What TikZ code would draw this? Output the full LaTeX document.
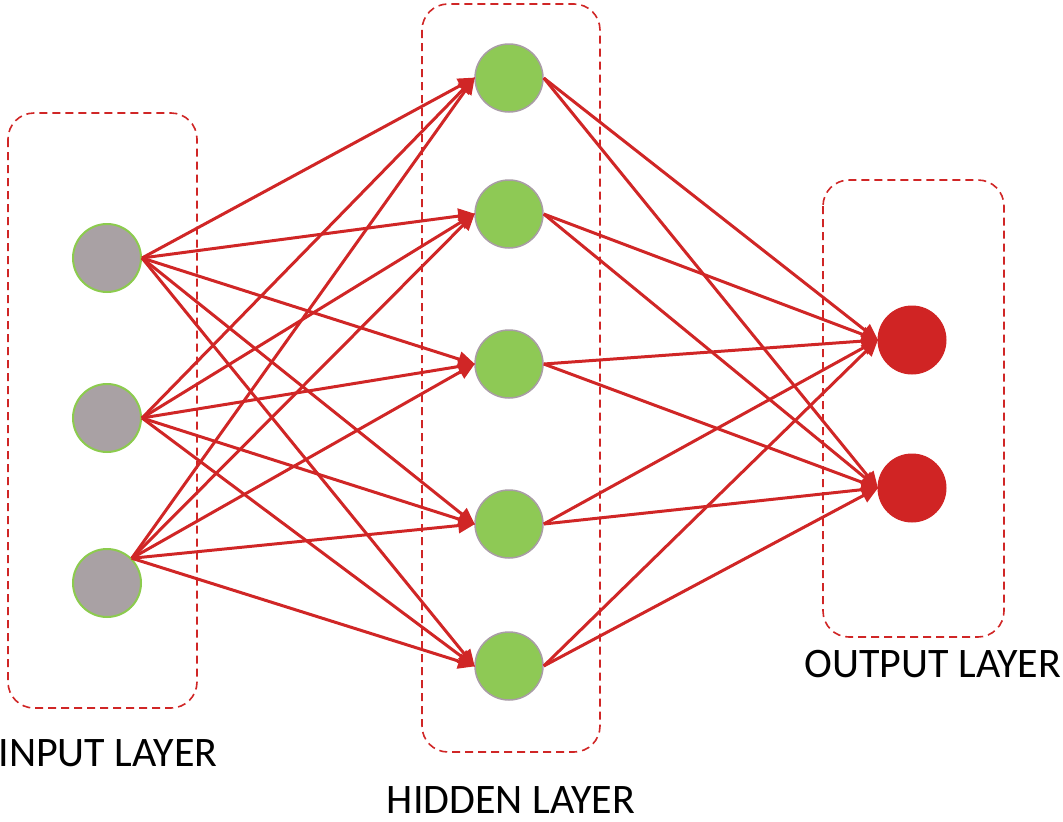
\documentclass[tikz,border=0pt]{standalone}
\usepackage{fontspec}
\setmainfont{Carlito}
\usetikzlibrary{arrows.meta}
\definecolor{netred}{HTML}{D02626}
\definecolor{ingray}{HTML}{A9A1A4}
\definecolor{ingreen}{HTML}{8CCB4E}
\definecolor{hidgreen}{HTML}{8EC955}
\definecolor{hidrim}{HTML}{A99CA6}
\definecolor{outred}{HTML}{D02424}
\tikzset{
  layerbox/.style={draw=netred, line width=1.6pt, dash pattern=on 8pt off 5pt, rounded corners=26pt},
  inneuron/.style={circle, minimum size=68pt, inner sep=0pt, fill=ingray, draw=ingreen, line width=2pt},
  hidneuron/.style={circle, minimum size=68pt, inner sep=0pt, fill=hidgreen, draw=hidrim, line width=1.5pt},
  outneuron/.style={circle, minimum size=68pt, inner sep=0pt, fill=outred, draw=outred, line width=1pt},
  link/.style={draw=netred, line width=3pt, -{Triangle[length=17pt,width=15pt]}, shorten >=-1pt},
  caption/.style={font=\fontsize{42}{46}\selectfont, text=black, inner sep=0pt, anchor=base}
}
\begin{document}
\begin{tikzpicture}[x=1pt, y=-1pt]
\useasboundingbox (0,0) rectangle (1063,822);

% layer frames
\draw[layerbox] (8,113) rectangle (197,708);
\draw[layerbox] (422,4) rectangle (600,752);
\draw[layerbox] (823,180) rectangle (1004,637);

% neurons
\node[inneuron] (i1) at (107,258) {};
\node[inneuron] (i2) at (107,418) {};
\node[inneuron] (i3) at (107,583) {};

\node[hidneuron] (h1) at (509,78) {};
\node[hidneuron] (h2) at (509,214) {};
\node[hidneuron] (h3) at (509,364) {};
\node[hidneuron] (h4) at (509,524) {};
\node[hidneuron] (h5) at (509,666) {};

\node[outneuron] (o1) at (912,340) {};
\node[outneuron] (o2) at (912,488) {};

% weights: input -> hidden
\foreach \h in {h1,h2,h3,h4,h5} {
  \draw[link] (i1.east) -- (\h.west);
  \draw[link] (i2.east) -- (\h.west);
  \draw[link] (i3.45) -- (\h.west);
}
% weights: hidden -> output
\foreach \h in {h1,h2,h3,h4,h5} {
  \draw[link] (\h.east) -- (o1.west);
  \draw[link] (\h.east) -- (o2.west);
}

% layer names
\node[caption] (tin) at (108,766) {INPUT LAYER};
\node[caption] (thid) at (511,813) {HIDDEN LAYER};
\node[caption] (tout) at (933,677) {OUTPUT LAYER};
\end{tikzpicture}
\end{document}
